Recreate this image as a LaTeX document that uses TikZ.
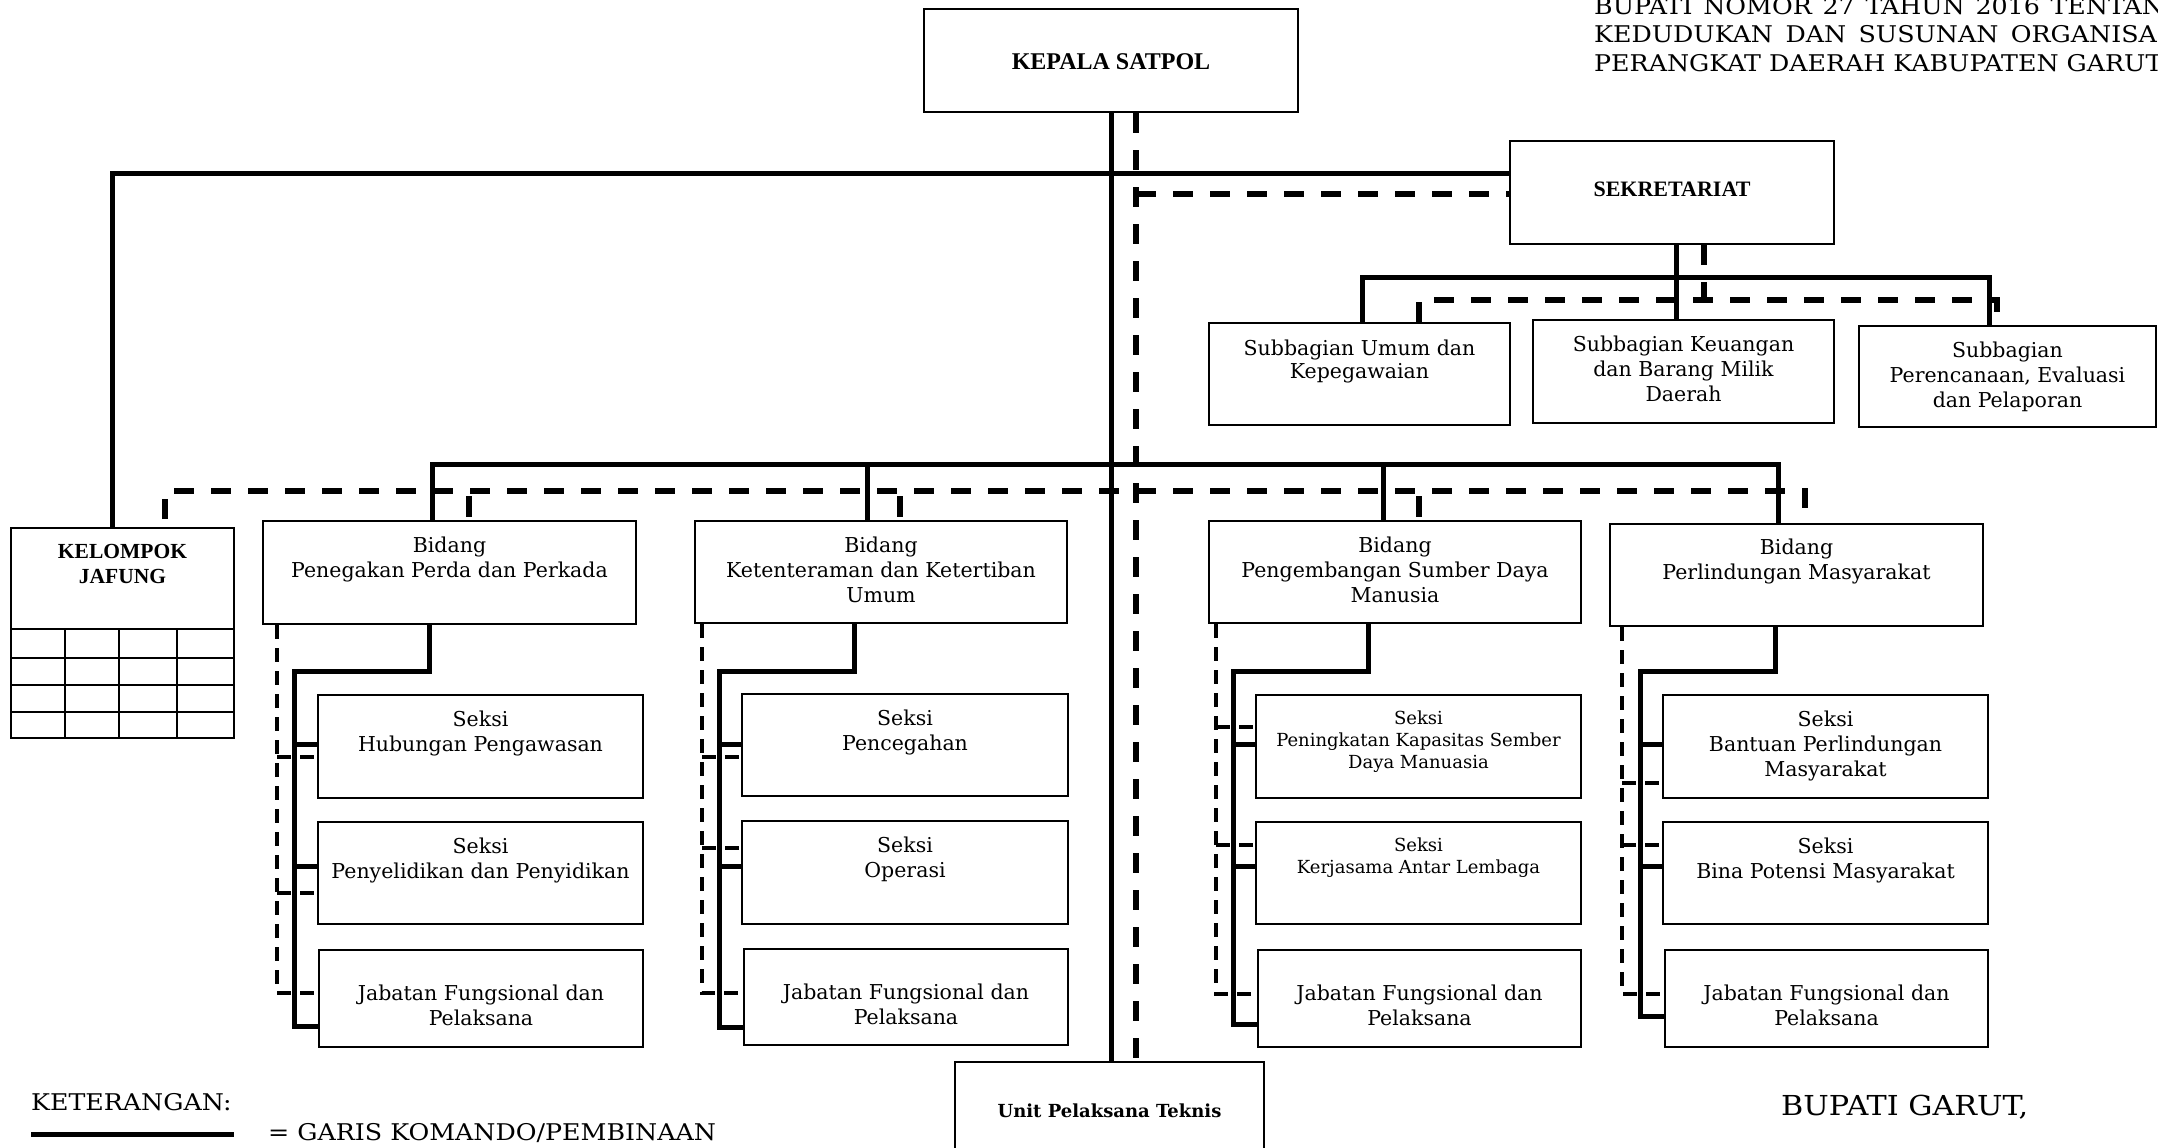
\documentclass[tikz,border=0pt]{standalone}
\usepackage{fontspec}
\setmainfont{DejaVu Serif}
\newfontfamily\tnr{Liberation Serif}
\newfontfamily\wide[FakeStretch=1.1]{DejaVu Serif}
\usetikzlibrary{calc}

% box text: width, height, first baseline from top, line skip, font size, text
\newcommand{\bx}[6]{\parbox[c][#2pt][t]{#1pt}{\fontsize{#5pt}{#4pt}\selectfont\centering\rule{0pt}{#3pt}#6\par}}

% one Bidang column: index, solid x at bidang, solid spine x, solid end y,
% dashed spine x, dashed stub y (first), dashed stub y (second), dashed end y
\newcommand{\bidcol}[8]{%
  \coordinate (k#1) at (#2,671);
  \coordinate (v#1) at (#3,671);
  \coordinate (e#1) at (#3,#4);
  \coordinate (a#1) at (#3,744);
  \coordinate (m#1) at (#3,866);
  \coordinate (f#1) at (#5,#8);
  \coordinate (p#1) at (#5,#6);
  \coordinate (r#1) at (#5,#7);
  \draw[cmd] (b#1.south -| k#1) -- (k#1) -- (v#1) -- (e#1) -- (e#1 -| s#1c.west);
  \draw[cmd] (a#1) -- (a#1 -| s#1a.west);
  \draw[cmd] (m#1) -- (m#1 -| s#1b.west);
  \draw[subd] (b#1.south -| f#1) -- (f#1) -- (f#1 -| s#1c.west);
  \draw[subd] (p#1) -- (p#1 -| s#1a.west);
  \draw[subd] (r#1) -- (r#1 -| s#1b.west);
}

\tikzset{
  orgbox/.style={draw, line width=2pt, inner sep=0pt, anchor=north west},
  cmd/.style={line width=5pt},
  crd/.style={line width=5.5pt, dash pattern=on 20pt off 17pt},
  stubd/.style={line width=5.5pt, dash pattern=on 0pt off 5pt on 21pt off 20pt},
  subd/.style={line width=3.5pt, dash pattern=on 14pt off 9pt},
  kjgrid/.style={line width=2.5pt},
  txt/.style={inner sep=0pt, anchor=base west},
}

\begin{document}
\begin{tikzpicture}[x=1pt, y=-1pt]
\fill[white] (0,0) rectangle (2158,1148);
\useasboundingbox (0,0) rectangle (2158,1148);

% heading of the regulation (runs past the page edge)
\node[txt] (h1) at (1594,15) {\fontsize{23pt}{28pt}\wide\makebox[590pt][s]{BUPATI NOMOR 27 TAHUN 2016 TENTANG}};
\node[txt] (h2) at (1594,43) {\fontsize{23pt}{28pt}\wide\makebox[590pt][s]{KEDUDUKAN DAN SUSUNAN ORGANISASI}};
\node[txt] (h3) at (1594,72) {\fontsize{23pt}{28pt}\wide PERANGKAT DAERAH KABUPATEN GARUT};

% top level
\node[orgbox] (kepala) at (923,8) {\bx{374}{103}{61}{28}{24}{\tnr\bfseries KEPALA SATPOL}};
\node[orgbox] (sek) at (1509,140) {\bx{324}{103}{55}{25}{22}{\tnr\bfseries SEKRETARIAT}};

% subbagian
\node[orgbox] (sb1) at (1208,322) {\bx{301}{102}{32}{23}{20.5}{Subbagian Umum dan\\Kepegawaian}};
\node[orgbox] (sb2) at (1532,319) {\bx{301}{103}{31}{25}{20.5}{Subbagian Keuangan\\dan Barang Milik\\Daerah}};
\node[orgbox] (sb3) at (1858,325) {\bx{297}{101}{31}{25}{20.5}{Subbagian\\Perencanaan, Evaluasi\\dan Pelaporan}};

% kelompok jabatan fungsional
\node[orgbox] (kj) at (10,527) {\bx{223}{210}{30}{25}{21.5}{\tnr\bfseries KELOMPOK\\JAFUNG}};
\draw[kjgrid] (10,629) -- (233,629);
\draw[kjgrid] (10,658) -- (235,658);
\draw[kjgrid] (10,685) -- (235,685);
\draw[kjgrid] (10,712) -- (235,712);
\draw[kjgrid] (65,629) -- (65,737);
\draw[kjgrid] (119,629) -- (119,737);
\draw[kjgrid] (177,629) -- (177,737);

% bidang
\node[orgbox] (b1) at (262,520) {\bx{373}{103}{31}{25}{20.5}{Bidang\\Penegakan Perda dan Perkada}};
\node[orgbox] (b2) at (694,520) {\bx{372}{102}{31}{25}{20.5}{Bidang\\Ketenteraman dan Ketertiban\\Umum}};
\node[orgbox] (b3) at (1208,520) {\bx{372}{102}{31}{25}{20.5}{Bidang\\Pengembangan Sumber Daya\\Manusia}};
\node[orgbox] (b4) at (1609,523) {\bx{373}{102}{30}{25}{20.5}{Bidang\\Perlindungan Masyarakat}};

% seksi
\node[orgbox] (s1a) at (317,694) {\bx{325}{103}{31}{25}{20.5}{Seksi\\Hubungan Pengawasan}};
\node[orgbox] (s1b) at (317,821) {\bx{325}{102}{31}{25}{20.5}{Seksi\\Penyelidikan dan Penyidikan}};
\node[orgbox] (s1c) at (318,949) {\bx{324}{97}{50}{25}{20.5}{Jabatan Fungsional dan\\Pelaksana}};

\node[orgbox] (s2a) at (741,693) {\bx{326}{102}{31}{25}{20.5}{Seksi\\Pencegahan}};
\node[orgbox] (s2b) at (741,820) {\bx{326}{103}{31}{25}{20.5}{Seksi\\Operasi}};
\node[orgbox] (s2c) at (743,948) {\bx{324}{96}{50}{25}{20.5}{Jabatan Fungsional dan\\Pelaksana}};

\node[orgbox] (s3a) at (1255,694) {\bx{325}{103}{29}{22}{18}{Seksi\\Peningkatan Kapasitas Sember\\Daya Manuasia}};
\node[orgbox] (s3b) at (1255,821) {\bx{325}{102}{29}{22}{18}{Seksi\\Kerjasama Antar Lembaga}};
\node[orgbox] (s3c) at (1257,949) {\bx{323}{97}{50}{25}{20.5}{Jabatan Fungsional dan\\Pelaksana}};

\node[orgbox] (s4a) at (1662,694) {\bx{325}{103}{31}{25}{20.5}{Seksi\\Bantuan Perlindungan\\Masyarakat}};
\node[orgbox] (s4b) at (1662,821) {\bx{325}{102}{31}{25}{20.5}{Seksi\\Bina Potensi Masyarakat}};
\node[orgbox] (s4c) at (1664,949) {\bx{323}{97}{50}{25}{20.5}{Jabatan Fungsional dan\\Pelaksana}};

% unit pelaksana teknis
\node[orgbox] (unit) at (954,1061) {\bx{309}{120}{55}{25}{18}{\bfseries Unit Pelaksana Teknis}};

% ---- command lines ----
\coordinate (dx) at (1136,0);
\coordinate (hb) at (112,173);
\draw[cmd] (kepala.south) -- (kepala.south |- unit.north);
\draw[cmd] (kj.north -| hb) |- (sek.west |- hb);

\coordinate (sbar) at (1676,277);
\coordinate (sL) at (1362,277);
\coordinate (sR) at (1989,277);
\draw[cmd] (sek.south -| sbar) -- (sbar);
\draw[cmd] (sb1.north -| sL) -- (sL) -- (sR) -- (sb3.north -| sR);
\draw[cmd] (sbar) -- (sb2.north -| sbar);

\coordinate (bL) at (432,464);
\coordinate (bR) at (1778,464);
\coordinate (b2x) at (867,464);
\coordinate (b3x) at (1383,464);
\draw[cmd] (b1.north -| bL) -- (bL) -- (bR) -- (b4.north -| bR);
\draw[cmd] (b2x) -- (b2.north -| b2x);
\draw[cmd] (b3x) -- (b3.north -| b3x);

% ---- coordination lines ----
\coordinate (hd) at (1136,194);
\draw[crd] (kepala.south -| dx) -- (unit.north -| dx);
\draw[crd] (hd) -- (sek.west |- hd);

\coordinate (sdv) at (1704,305);
\coordinate (sdL) at (1419,300);
\coordinate (sdR) at (1997,300);
\draw[crd] (sek.south -| sdv) -- (sdv);
\draw[crd] (sb1.north -| sdL) -- (sdL) -- (sdR) -- (sb3.north -| sdR);

\coordinate (dL) at (165,491);
\coordinate (dR) at (1805,491);
\coordinate (d1) at (469,491);
\coordinate (d2) at (900,491);
\coordinate (d3) at (1419,491);
\draw[crd, dash phase=29pt] (kj.north -| dL) -- (dL) -- (dR) -- (b4.north -| dR);
\draw[stubd] (d1) -- (b1.north -| d1);
\draw[stubd] (d2) -- (b2.north -| d2);
\draw[stubd] (d3) -- (b3.north -| d3);

% ---- bidang columns ----
\bidcol{1}{429}{294}{1026}{277}{757}{893}{993}
\bidcol{2}{854}{719}{1027}{702}{757}{848}{993}
\bidcol{3}{1368}{1233}{1024}{1216}{727}{845}{994}
\bidcol{4}{1775}{1640}{1016}{1622}{783}{845}{994}

% ---- legend ----
\node[txt] (ket) at (31,1110) {\fontsize{23pt}{28pt}\wide KETERANGAN:};
\coordinate (lg1) at (31,1134);
\coordinate (lg2) at (234,1134);
\draw[cmd] (lg1) -- (lg2);
\node[txt] (lgt) at (268,1140) {\fontsize{23pt}{28pt}\wide = GARIS KOMANDO/PEMBINAAN};

\node[txt] (bup) at (1781,1115) {\fontsize{27.5pt}{32pt}\wide BUPATI GARUT,};
\end{tikzpicture}
\end{document}
